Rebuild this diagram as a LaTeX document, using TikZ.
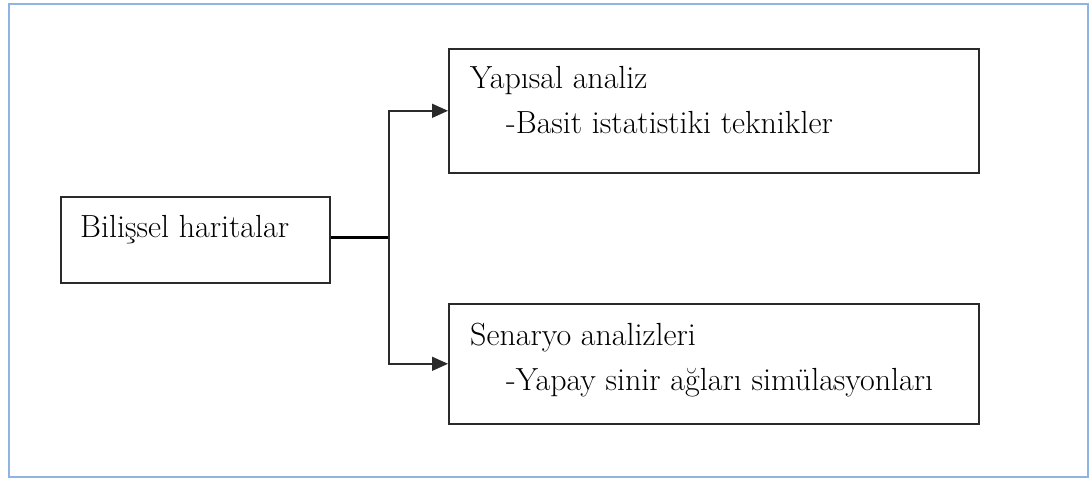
\documentclass[tikz,border=0pt]{standalone}
\usepackage{fontspec}
\usetikzlibrary{arrows.meta}
\definecolor{framecol}{HTML}{8DB4E2}
\definecolor{ink}{HTML}{2A2A2A}
\begin{document}
\begin{tikzpicture}[x=1pt,y=-1pt,
  frame/.style={draw=framecol, line width=2.5pt},
  box/.style={draw=ink, line width=1.6pt, inner sep=0pt, anchor=north west},
  lbl/.style={anchor=base west, inner sep=0pt, text=black,
    font=\rmfamily\fontsize{32}{38}\selectfont},
  trunk/.style={draw=black, line width=3pt},
  branch/.style={draw=ink, line width=1.6pt,
    -{Triangle[length=16pt,width=14pt]}}
]
\useasboundingbox (0,0) rectangle (1090,479);
% outer frame
\draw[frame] (9,4) rectangle (1088,477);

% boxes
\node[box, minimum width=269pt, minimum height=86pt] (src) at (60,196) {};
\node[box, minimum width=530pt, minimum height=124pt] (top) at (448,48) {};
\node[box, minimum width=530pt, minimum height=120pt] (bot) at (448,303) {};

% labels
\node[lbl] (srcA) at (80,237) {Bilişsel haritalar};
\node[lbl] (topA) at (470,88) {Yapısal analiz};
\node[lbl] (topB) at (506,133) {-Basit istatistiki teknikler};
\node[lbl] (botA) at (470,345) {Senaryo analizleri};
\node[lbl] (botB) at (506,390) {-Yapay sinir ağları simülasyonları};

% connectors
\coordinate (j) at (389,237);
\draw[trunk] (j -| src.east) -- (j);
\draw[branch] (j) |- (top.west);
\draw[branch] (j) |- (bot.west);
\end{tikzpicture}
\end{document}
